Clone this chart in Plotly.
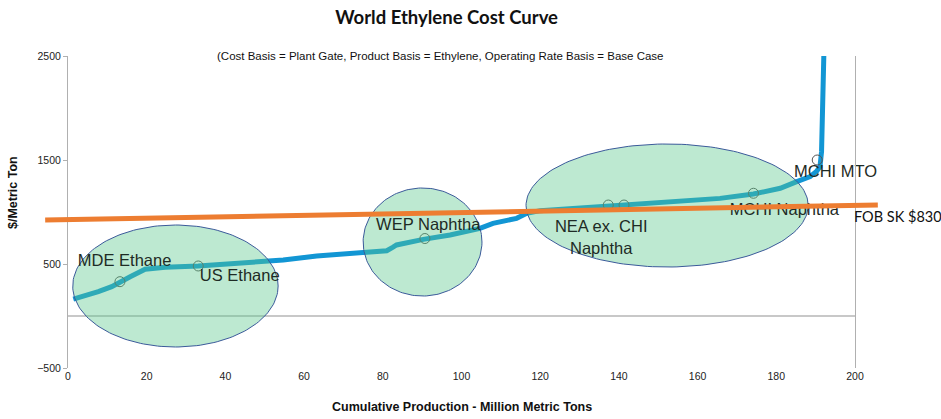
import numpy as np
import plotly.graph_objects as go

# Cumulative capacity (million metric tons) and cash cost ($/metric ton) along the curve
capacity = [1.35, 4.5, 7.7, 11.1, 13.2, 15.8, 19.6, 24.7, 33.1, 40, 46.3, 50.1, 54.7,
            63.2, 68, 73.4, 81, 82.5, 83.5, 90.3, 94.5, 97.1, 104.7, 108, 114, 116.6,
            120, 128.4, 136.9, 141.3, 145.4, 157.2, 165.7, 174.2, 181, 185.2, 188.6,
            190.2, 191.1, 191.5, 191.8, 192.0, 192.2]
cost = [163, 195, 234, 282, 330, 378, 449, 468, 481, 497, 516, 522, 538,
        577, 592, 612, 628, 660, 683, 737, 760, 779, 843, 891, 939, 987,
        1013, 1036, 1061, 1070, 1084, 1109, 1131, 1173, 1228, 1292, 1340,
        1390, 1436, 1580, 2000, 2300, 2700]

# Highlighted producers on the curve
point_x = [13.2, 33.1, 90.7, 137.3, 141.3, 174.2, 190.4]
point_y = [330, 481, 745, 1067, 1067, 1180, 1500]

# Regional groupings: x extent and y extent of each ellipse
groups = [
    (1.2, 53.4, -298, 875),
    (75.0, 105.2, 192, 1231),
    (116.4, 188.1, 471, 1654),
]

# Group labels: text, x, y, text position
labels = [
    ("MDE Ethane", 2.5, 519, "middle right"),
    ("US Ethane", 33.5, 375, "middle right"),
    ("WEP Naphtha", 78.3, 865, "middle right"),
    ("NEA ex. CHI<br>Naphtha", 135.5, 740, "middle center"),
    ("MCHI Naphtha", 168.2, 1010, "middle right"),
    ("MCHI MTO", 184.5, 1375, "middle right"),
]

# FOB SK reference price line (x ends as paper fraction, y in $/t)
fob_x = [-0.029, 1.029]
fob_y = [923, 1067]

x_ticks = list(range(0, 201, 20))
y_ticks = [-500, 500, 1500, 2500]

SANS = "Liberation Sans, Arial, sans-serif"
LATO = "Lato, Carlito, Calibri, sans-serif"

fig = go.Figure()
fig.add_trace(go.Scatter(
    x=capacity, y=cost, mode="lines",
    line=dict(color="#1296d4", width=5), hoverinfo="skip", showlegend=False,
))
fig.add_trace(go.Scatter(
    x=point_x, y=point_y, mode="markers",
    marker=dict(symbol="circle-open", size=10, color="#555555", line=dict(width=1)),
    hoverinfo="skip", showlegend=False,
))

# Translucent ellipses over the curve
t = np.linspace(0, 2 * np.pi, 181)
for x0, x1, y0, y1 in groups:
    cx, cy = (x0 + x1) / 2, (y0 + y1) / 2
    rx, ry = (x1 - x0) / 2, (y1 - y0) / 2
    fig.add_trace(go.Scatter(
        x=cx + rx * np.cos(t), y=cy + ry * np.sin(t), mode="lines",
        fill="toself", fillcolor="rgba(90,200,140,0.4)",
        line=dict(color="#3b5a9a", width=1), hoverinfo="skip", showlegend=False,
    ))

fig.add_trace(go.Scatter(
    x=[l[1] for l in labels], y=[l[2] for l in labels], mode="text",
    text=[l[0] for l in labels], textposition=[l[3] for l in labels],
    textfont=dict(family=SANS, size=16.5, color="#1e2b25"),
    cliponaxis=False, hoverinfo="skip", showlegend=False,
))

fig.add_shape(type="line", xref="paper", yref="y", x0=fob_x[0], x1=fob_x[1],
              y0=fob_y[0], y1=fob_y[1], line=dict(color="#ED7D31", width=5), layer="above")

fig.add_annotation(x=1.0, y=952, xref="paper", yref="y", text="FOB SK $830",
                   showarrow=False, xanchor="left", yanchor="middle", xshift=-3,
                   font=dict(family=LATO, size=14.5, color="#111111"))

fig.add_annotation(x=0.4727, y=1.0, xref="paper", yref="paper",
                   text="(Cost Basis = Plant Gate, Product Basis = Ethylene, Operating Rate Basis = Base Case",
                   showarrow=False, xanchor="center", yanchor="middle",
                   font=dict(family=SANS, size=11.5, color="#111111"))

fig.add_annotation(x=-0.0699, y=0.564, xref="paper", yref="paper", text="<b>$/Metric Ton</b>",
                   textangle=-90, showarrow=False, xanchor="center", yanchor="middle",
                   font=dict(family=SANS, size=12.5, color="#111111"))

fig.add_annotation(x=0.5, y=-0.125, xref="paper", yref="paper",
                   text="<b>Cumulative Production - Million Metric Tons</b>",
                   showarrow=False, xanchor="center", yanchor="middle",
                   font=dict(family=SANS, size=12.5, color="#111111"))

fig.update_layout(
    width=941, height=419,
    margin=dict(l=68, r=86, t=56, b=51),
    paper_bgcolor="white", plot_bgcolor="white",
    title=dict(text="<b>World Ethylene Cost Curve</b>", x=0.4746, xanchor="center",
               y=0.959, yanchor="middle",
               font=dict(family=LATO, size=18.5, color="#111111")),
    xaxis=dict(range=[0, 200], tickvals=x_ticks, showgrid=False, zeroline=False,
               showline=False, ticks="", tickfont=dict(family=SANS, size=10.5, color="#222222")),
    yaxis=dict(range=[-500, 2500], tickvals=y_ticks, showgrid=False,
               zeroline=True, zerolinecolor="#c8c8c8", zerolinewidth=1.5,
               showline=True, linecolor="#b0b0b0", linewidth=1, mirror=True,
               ticks="outside", ticklen=4, tickcolor="#b0b0b0",
               tickfont=dict(family=SANS, size=10.5, color="#222222")),
)

fig.write_html("out.html")
